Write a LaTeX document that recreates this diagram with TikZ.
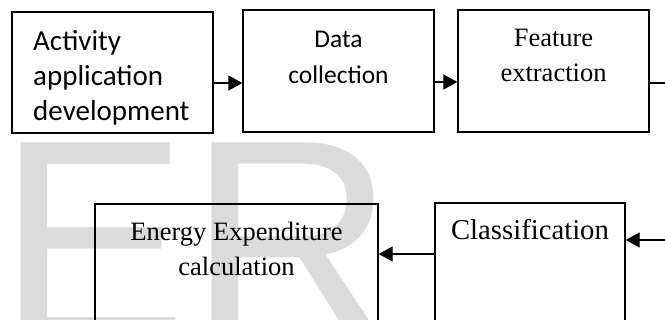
\documentclass[tikz,border=0pt]{standalone}
\usepackage{fontspec}
\setmainfont{Liberation Serif}
\newfontfamily\calibrifont{Carlito}
\newfontfamily\markfont{Liberation Sans}
\usepackage{tikz}
\usetikzlibrary{arrows.meta}

\begin{document}
\begin{tikzpicture}[x=1pt,y=-1pt]%
\tikzstyle{stage} = [draw, line width=1.3pt, rectangle, inner sep=0pt]
\tikzstyle{arr} = [line width=1.3pt, -{Triangle[length=14pt,width=15pt]}]
\tikzstyle{sanslbl} = [inner sep=0pt, font=\calibrifont\fontsize{29}{35}\selectfont]
\tikzstyle{seriflbl} = [inner sep=0pt, align=center, font=\fontsize{26.5}{35}\selectfont]

\clip (0,0) rectangle (665,320);
\fill[white] (0,0) rectangle (665,320);

% big grey letters behind the chart
\node[anchor=base west, inner sep=0pt, text=black!14,
      font=\markfont\fontsize{286}{286}\selectfont] (mark) at (-2.6,340) {ER};

% upper row
\node[stage, minimum width=201pt, minimum height=121pt] (app) at (112.5,72.5) {};
\node[stage, minimum width=191pt, minimum height=122pt] (data) at (338.5,71) {};
\node[stage, minimum width=191pt, minimum height=122pt] (feat) at (553.5,71) {};

\node[sanslbl, anchor=north west, align=left] (applbl) at (33,25.5)
    {\strut Activity\\application\\development};
\node[sanslbl, anchor=north, align=center, font=\calibrifont\fontsize{25.5}{36}\selectfont]
    (datalbl) at (338.5,22.5) {\strut Data\\collection};
\node[seriflbl, anchor=north] (featlbl) at (553.5,21.5) {\strut Feature\\extraction};

% lower row
\node[stage, minimum width=283pt, minimum height=176pt] (energy) at (236.5,292) {};
\node[stage, minimum width=190pt, minimum height=178pt] (cls) at (530,292) {};

\node[seriflbl, anchor=north] (energylbl) at (236.5,215.5)
    {\strut Energy Expenditure\\calculation};
\node[seriflbl, anchor=north, font=\fontsize{28.7}{35}\selectfont] (clslbl) at (530,214.5)
    {\strut Classification};

% connectors
\coordinate (outA) at (670,83);
\coordinate (inB) at (670,240);
\draw[arr] ([yshift=-10.5pt]app.east) -- ([yshift=-12pt]data.west);
\draw[arr] ([yshift=-11pt]data.east) -- ([yshift=-11pt]feat.west);
\draw[line width=1.3pt] ([yshift=-12pt]feat.east) -- (outA);
\draw[arr] (inB) -- (cls.east |- inB);
\draw[arr] ([yshift=38pt]cls.west) -- ([yshift=38pt]energy.east);
\end{tikzpicture}
\end{document}
